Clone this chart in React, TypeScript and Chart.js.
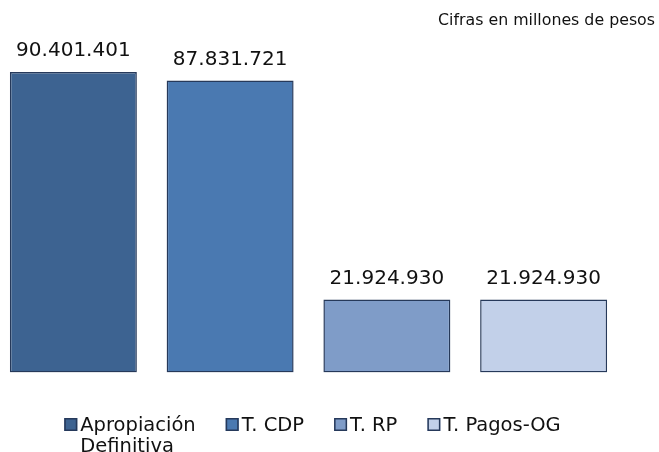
import React, { useEffect, useRef } from "react";
import { Chart, registerables } from "chart.js";

Chart.register(...registerables);

const seriesLabels = ["Apropiación Definitiva", "T. CDP", "T. RP", "T. Pagos-OG"];
const seriesValues = [90401401, 87831721, 21924930, 21924930];
const valueLabels = ["90.401.401", "87.831.721", "21.924.930", "21.924.930"];
const fillColors = ["#3d6391", "#4a79b1", "#7f9cc8", "#c2d0e9"];
const borderColor = "#26395a";
const noteText = "Cifras en millones de pesos";
const FONT = "DejaVu Sans, Verdana, sans-serif";

const overlay = {
  id: "overlay",
  afterDatasetsDraw(chart: any) {
    const ctx = chart.ctx;
    const area = chart.chartArea;
    ctx.save();
    // value labels
    ctx.fillStyle = "#111";
    ctx.font = `20px ${FONT}`;
    ctx.textAlign = "center";
    ctx.textBaseline = "alphabetic";
    chart.data.datasets.forEach((ds: any, i: number) => {
      const meta = chart.getDatasetMeta(i);
      const el = meta.data[i];
      if (!el) return;
      ctx.fillText(valueLabels[i], el.x, el.y - 15.5);
    });
    // note
    ctx.font = `15.8px ${FONT}`;
    ctx.textAlign = "right";
    ctx.fillText(noteText, chart.width - 4, 25);
    // legend
    ctx.font = `19.5px ${FONT}`;
    ctx.textAlign = "left";
    const box = 13;
    const gapBox = 3;
    const gapItem = 30;
    const maxText = 120;
    const lineH = 21;
    const items = seriesLabels.map((lab) => {
      const words = lab.split(" ");
      const lines: string[] = [];
      let cur = "";
      words.forEach((w) => {
        const t = cur ? cur + " " + w : w;
        if (cur && ctx.measureText(t).width > maxText) {
          lines.push(cur);
          cur = w;
        } else cur = t;
      });
      if (cur) lines.push(cur);
      const width = Math.max(...lines.map((l) => ctx.measureText(l).width));
      return { lines, width: box + gapBox + width };
    });
    const total = items.reduce((s, it) => s + it.width, 0) + gapItem * (items.length - 1);
    let x = (area.left + area.right) / 2 + 4 - total / 2;
    const baseY = 431;
    items.forEach((it, i) => {
      ctx.fillStyle = fillColors[i];
      ctx.fillRect(x, baseY - box, box, box);
      ctx.strokeStyle = borderColor;
      ctx.lineWidth = 1.5;
      ctx.strokeRect(x + 0.75, baseY - box + 0.75, box - 1.5, box - 1.5);
      ctx.fillStyle = "#111";
      it.lines.forEach((l, j) => ctx.fillText(l, x + box + gapBox, baseY + j * lineH));
      x += it.width + gapItem;
    });
    ctx.restore();
  },
};

export default function App() {
  const ref = useRef<HTMLCanvasElement>(null);
  useEffect(() => {
    if (!ref.current) return;
    const datasets = seriesLabels.map((lab, i) => ({
      label: lab,
      data: seriesValues.map((v, j) => (j === i ? v : null)),
      backgroundColor: fillColors[i],
      borderColor: borderColor,
      borderWidth: 1.5,
      borderSkipped: false,
      categoryPercentage: 1,
      barPercentage: 0.81,
      grouped: false,
    }));
    const chart = new Chart(ref.current, {
      type: "bar",
      data: { labels: seriesLabels.map(() => ""), datasets: datasets as any },
      options: {
        animation: false,
        responsive: false,
        maintainAspectRatio: false,
        layout: { padding: { left: 0, right: 37, top: 40, bottom: 79.6 } },
        plugins: { legend: { display: false }, tooltip: { enabled: false } },
        scales: {
          x: { display: false, offset: true },
          y: { display: false, min: 0, max: 100000000 },
        },
      },
      plugins: [overlay],
    });
    return () => chart.destroy();
  }, []);
  return (
    <div style={{ position: "absolute", left: -5, top: 0, width: 664, height: 452 }}>
      <canvas ref={ref} width={664} height={452} style={{ display: "block" }} />
    </div>
  );
}
